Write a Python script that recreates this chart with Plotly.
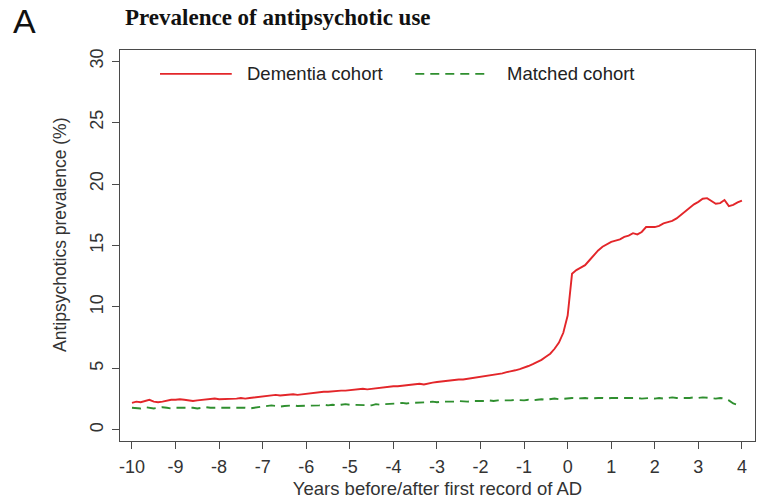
import plotly.graph_objects as go

# ---- data ----
years = [round(-10 + 0.1 * i, 1) for i in range(141)]

dementia = [
    2.2, 2.3, 2.25, 2.35, 2.45, 2.3, 2.25, 2.3, 2.4, 2.45, 2.45,
    2.5, 2.45, 2.4, 2.35, 2.4, 2.45, 2.5, 2.5, 2.55, 2.5,
    2.5, 2.55, 2.5, 2.55, 2.6, 2.55, 2.6, 2.65, 2.7, 2.75,
    2.8, 2.8, 2.85, 2.8, 2.85, 2.9, 2.9, 2.85, 2.9, 2.95,
    3.0, 3.0, 3.05, 3.1, 3.1, 3.15, 3.15, 3.2, 3.2, 3.25,
    3.25, 3.3, 3.35, 3.3, 3.35, 3.4, 3.45, 3.45, 3.5, 3.55,
    3.55, 3.6, 3.6, 3.65, 3.7, 3.75, 3.7, 3.8, 3.85, 3.9,
    3.95, 3.95, 4.0, 4.05, 4.1, 4.1, 4.15, 4.2, 4.25, 4.3,
    4.35, 4.4, 4.45, 4.5, 4.6, 4.7, 4.75, 4.85, 4.95, 5.05,
    5.2, 5.35, 5.5, 5.7, 5.95, 6.2, 6.6, 7.1, 7.9, 9.3,
    12.7, 13.0, 13.2, 13.4, 13.8, 14.2, 14.6, 14.9, 15.1, 15.3,
    15.4, 15.5, 15.7, 15.8, 16.0, 15.9, 16.1, 16.5, 16.5, 16.5,
    16.6, 16.8, 16.9, 17.0, 17.2, 17.5, 17.8, 18.1, 18.35, 18.55,
    18.8, 18.85, 18.6, 18.4, 18.45, 18.7, 18.2, 18.3, 18.5, 18.65,
]

matched = [
    1.8, 1.8, 1.75, 1.85, 1.8, 1.75, 1.8, 1.85, 1.8, 1.75, 1.8,
    1.8, 1.85, 1.8, 1.8, 1.75, 1.8, 1.85, 1.8, 1.8, 1.85,
    1.8, 1.8, 1.85, 1.8, 1.85, 1.8, 1.75, 1.8, 1.85, 1.9,
    1.95, 2.0, 1.95, 1.9, 1.95, 2.0, 2.0, 1.95, 1.95, 2.0,
    2.0, 1.95, 2.0, 2.05, 2.0, 2.05, 2.0, 2.05, 2.1, 2.05,
    2.05, 2.0, 2.05, 2.05, 2.0, 2.1, 2.05, 2.1, 2.1, 2.15,
    2.15, 2.2, 2.15, 2.2, 2.2, 2.25, 2.2, 2.25, 2.3, 2.25,
    2.3, 2.3, 2.25, 2.3, 2.35, 2.3, 2.3, 2.35, 2.35, 2.3,
    2.35, 2.4, 2.35, 2.4, 2.4, 2.35, 2.4, 2.45, 2.4, 2.4,
    2.45, 2.4, 2.45, 2.5, 2.45, 2.5, 2.55, 2.5, 2.55, 2.6,
    2.6, 2.55, 2.6, 2.6, 2.55, 2.6, 2.6, 2.6, 2.55, 2.6,
    2.6, 2.65, 2.6, 2.6, 2.65, 2.6, 2.55, 2.6, 2.6, 2.55,
    2.6, 2.55, 2.6, 2.65, 2.6, 2.6, 2.55, 2.6, 2.65, 2.6,
    2.65, 2.6, 2.6, 2.55, 2.6, 2.55, 2.4, 2.15, 2.05, 2.1,
]

x_ticks = list(range(-10, 5))
y_ticks = [0, 5, 10, 15, 20, 25, 30]
series_names = ["Dementia cohort", "Matched cohort"]

RED = "#e3262a"
GREEN = "#2f8f2f"
AXIS = "#4a4a4a"
FONT = "Liberation Sans, Arial, sans-serif"

fig = go.Figure()
fig.add_trace(go.Scatter(x=years, y=dementia, mode="lines", name=series_names[0],
                         line=dict(color=RED, width=1.9), showlegend=False))
fig.add_trace(go.Scatter(x=years, y=matched, mode="lines", name=series_names[1],
                         line=dict(color=GREEN, width=1.9, dash="9px,6px"), showlegend=False))

# manual legend (R-style, inside the plot, no box)
leg_y = 0.939
fig.add_shape(type="line", xref="paper", yref="paper", x0=0.063, x1=0.176, y0=leg_y, y1=leg_y,
              line=dict(color=RED, width=1.9))
fig.add_shape(type="line", xref="paper", yref="paper", x0=0.465, x1=0.583, y0=leg_y, y1=leg_y,
              line=dict(color=GREEN, width=1.9, dash="9px,6px"))
fig.add_annotation(xref="paper", yref="paper", x=0.197, y=leg_y, text=series_names[0],
                   showarrow=False, xanchor="left", yanchor="middle",
                   font=dict(family=FONT, size=18.5, color="#222"))
fig.add_annotation(xref="paper", yref="paper", x=0.606, y=leg_y, text=series_names[1],
                   showarrow=False, xanchor="left", yanchor="middle",
                   font=dict(family=FONT, size=18.5, color="#222"))

# panel letter and title
fig.add_annotation(xref="paper", yref="paper", x=-0.15, y=1.075, text="A",
                   showarrow=False, xanchor="center", yanchor="middle",
                   font=dict(family=FONT, size=34, color="#111"))
fig.add_annotation(xref="paper", yref="paper", x=0.004, y=1.083,
                   text="<b>Prevalence of antipsychotic use</b>",
                   showarrow=False, xanchor="left", yanchor="middle",
                   font=dict(family="Liberation Serif, Times New Roman, serif", size=23, color="#111"))

# y-axis title (placed as in the reference, slightly above the axis centre)
fig.add_annotation(xref="paper", yref="paper", x=-0.0945, y=0.527,
                   text="Antipsychotics prevalence (%)", textangle=-90,
                   showarrow=False, xanchor="center", yanchor="middle",
                   font=dict(family=FONT, size=17.5, color="#333"))

fig.update_layout(
    width=767, height=499,
    margin=dict(l=120, r=12, t=50, b=58),
    paper_bgcolor="white", plot_bgcolor="white",
    font=dict(family=FONT, size=18, color="#333"),
)
fig.update_xaxes(
    range=[-10.275, 4.3], tickvals=x_ticks, ticktext=[str(v) for v in x_ticks],
    showgrid=False, zeroline=False, automargin=False,
    showline=True, linecolor=AXIS, linewidth=1.2, mirror=True,
    ticks="outside", ticklen=7, tickcolor=AXIS, tickwidth=1,
    ticklabelstandoff=2,
    title=dict(text="Years before/after first record of AD", standoff=6,
               font=dict(family=FONT, size=18.5, color="#333")),
)
fig.update_yaxes(
    range=[-0.9, 30.9], tickvals=y_ticks, ticktext=[str(v) for v in y_ticks],
    tickangle=-90,
    showgrid=False, zeroline=False, automargin=False,
    showline=True, linecolor=AXIS, linewidth=1.2, mirror=True,
    ticks="outside", ticklen=7, tickcolor=AXIS, tickwidth=1,
    ticklabelstandoff=2,
)

fig.write_html("out.html",
               config={"displayModeBar": False},
               post_script="document.body.style.margin='0';document.body.style.overflow='hidden';")
